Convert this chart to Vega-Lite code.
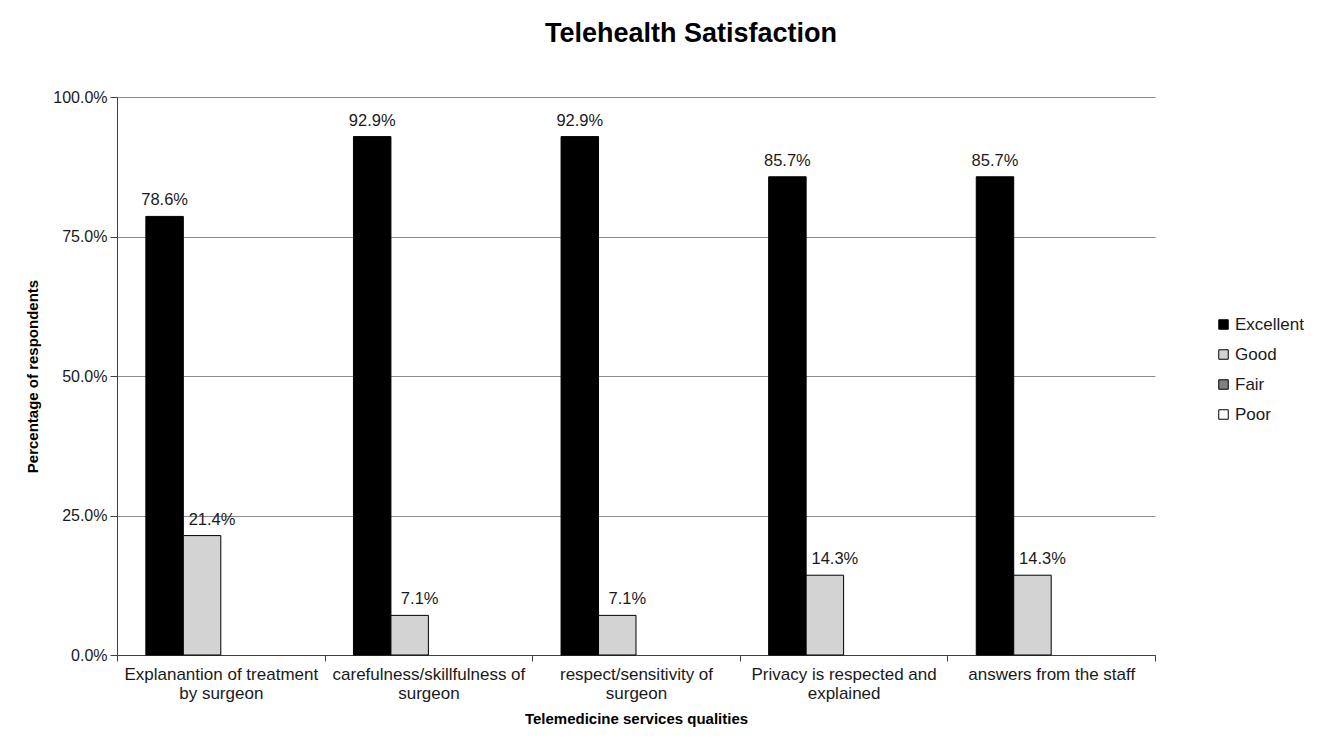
{
  "$schema": "https://vega.github.io/schema/vega-lite/v6.json",
  "autosize": {"type": "none"},
  "padding": {"left": 117, "top": 97, "right": 164, "bottom": 87},
  "width": 1038,
  "height": 558,
  "background": "white",
  "title": {
    "text": "Telehealth Satisfaction",
    "font": "Liberation Sans",
    "fontSize": 27,
    "fontWeight": "bold",
    "color": "#000000",
    "anchor": "middle",
    "dx": 55,
    "offset": 41
  },
  "data": {
    "values": [
      {"category": "Explanantion of treatment by surgeon", "rating": "Excellent", "value": 0.786},
      {"category": "Explanantion of treatment by surgeon", "rating": "Good", "value": 0.214},
      {"category": "Explanantion of treatment by surgeon", "rating": "Fair", "value": 0},
      {"category": "Explanantion of treatment by surgeon", "rating": "Poor", "value": 0},
      {"category": "carefulness/skillfulness of surgeon", "rating": "Excellent", "value": 0.929},
      {"category": "carefulness/skillfulness of surgeon", "rating": "Good", "value": 0.071},
      {"category": "carefulness/skillfulness of surgeon", "rating": "Fair", "value": 0},
      {"category": "carefulness/skillfulness of surgeon", "rating": "Poor", "value": 0},
      {"category": "respect/sensitivity of surgeon", "rating": "Excellent", "value": 0.929},
      {"category": "respect/sensitivity of surgeon", "rating": "Good", "value": 0.071},
      {"category": "respect/sensitivity of surgeon", "rating": "Fair", "value": 0},
      {"category": "respect/sensitivity of surgeon", "rating": "Poor", "value": 0},
      {"category": "Privacy is respected and explained", "rating": "Excellent", "value": 0.857},
      {"category": "Privacy is respected and explained", "rating": "Good", "value": 0.143},
      {"category": "Privacy is respected and explained", "rating": "Fair", "value": 0},
      {"category": "Privacy is respected and explained", "rating": "Poor", "value": 0},
      {"category": "answers from the staff", "rating": "Excellent", "value": 0.857},
      {"category": "answers from the staff", "rating": "Good", "value": 0.143},
      {"category": "answers from the staff", "rating": "Fair", "value": 0},
      {"category": "answers from the staff", "rating": "Poor", "value": 0}
    ]
  },
  "encoding": {
    "x": {
      "field": "category",
      "type": "nominal",
      "sort": null,
      "scale": {"paddingInner": 0, "paddingOuter": 0},
      "axis": {
        "title": "Telemedicine services qualities",
        "titleFontSize": 15,
        "titleFontWeight": "bold",
        "titleColor": "#000000",
        "titlePadding": 10,
        "labelAngle": 0,
        "labelFontSize": 17,
        "labelColor": "#1a1a1a",
        "labelLineHeight": 19,
        "labelPadding": 5,
        "labelLimit": 0,
        "tickBand": "extent",
        "tickSize": 6,
        "tickColor": "#404040",
        "domainColor": "#404040",
        "labelExpr": "datum.value == 'Explanantion of treatment by surgeon' ? ['Explanantion of treatment', 'by surgeon'] : datum.value == 'carefulness/skillfulness of surgeon' ? ['carefulness/skillfulness of', 'surgeon'] : datum.value == 'respect/sensitivity of surgeon' ? ['respect/sensitivity of', 'surgeon'] : datum.value == 'Privacy is respected and explained' ? ['Privacy is respected and', 'explained'] : datum.value"
      }
    },
    "y": {
      "field": "value",
      "type": "quantitative",
      "scale": {"domain": [0, 1]},
      "axis": {
        "title": "Percentage of respondents",
        "titleFontSize": 15,
        "titleFontWeight": "bold",
        "titleColor": "#000000",
        "titlePadding": 12,
        "values": [0, 0.25, 0.5, 0.75, 1],
        "format": ".1%",
        "labelFontSize": 16,
        "labelColor": "#1a1a1a",
        "labelPadding": 3,
        "tickSize": 7,
        "tickColor": "#404040",
        "domainColor": "#404040",
        "grid": true,
        "gridColor": "#8c8c8c",
        "gridWidth": 1
      }
    }
  },
  "layer": [
    {
      "mark": {"type": "bar", "stroke": "#000000", "strokeWidth": 1},
      "transform": [{"filter": "datum.value > 0"}],
      "encoding": {
        "xOffset": {
          "field": "rating",
          "type": "nominal",
          "scale": {"domain": ["Excellent", "Good", "Fair", "Poor"], "paddingInner": 0, "paddingOuter": 0.77}
        },
        "color": {
          "field": "rating",
          "type": "nominal",
          "scale": {"domain": ["Excellent", "Good", "Fair", "Poor"], "range": ["#000000", "#d3d3d3", "#808080", "#ffffff"]},
          "legend": {
            "title": null,
            "orient": "none",
            "legendX": 1098,
            "legendY": 219,
            "symbolType": "square",
            "symbolSize": 90,
            "symbolStrokeColor": "#000000",
            "symbolStrokeWidth": 1,
            "labelFontSize": 17,
            "labelColor": "#1a1a1a",
            "labelOffset": 3,
            "rowPadding": 12
          }
        }
      }
    },
    {
      "mark": {"type": "text", "fontSize": 16.5, "color": "#1a1a1a", "baseline": "alphabetic", "dy": -11},
      "transform": [{"filter": "datum.rating == 'Excellent'"}],
      "encoding": {
        "xOffset": {"field": "rating", "type": "nominal"},
        "text": {"field": "value", "type": "quantitative", "format": ".1%"}
      }
    },
    {
      "mark": {"type": "text", "fontSize": 16.5, "color": "#1a1a1a", "baseline": "alphabetic", "dy": -11, "dx": 10},
      "transform": [{"filter": "datum.rating == 'Good'"}],
      "encoding": {
        "xOffset": {"field": "rating", "type": "nominal"},
        "text": {"field": "value", "type": "quantitative", "format": ".1%"}
      }
    }
  ],
  "config": {
    "font": "Liberation Sans",
    "view": {"stroke": null}
  }
}
